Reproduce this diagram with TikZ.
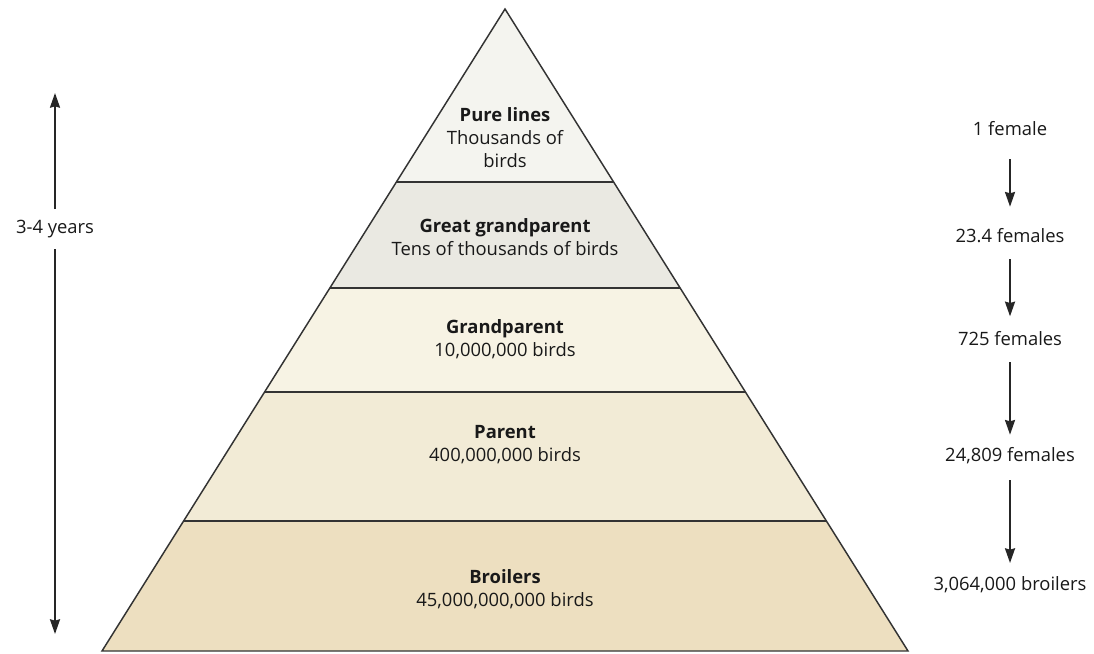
\documentclass[tikz,border=0pt]{standalone}
\usepackage{fontspec}
\setmainfont{Open Sans}
\usetikzlibrary{arrows.meta}
\begin{document}
\begin{tikzpicture}[x=0.75pt,y=-0.75pt,
  layer/.style={draw=black!80,line width=1.1pt,line join=miter},
  lbl/.style={font=\fontsize{13.8pt}{17.2pt}\selectfont,align=center,text=black!90,inner sep=1pt},
  arr/.style={draw=black!85,line width=1.5pt,-{Stealth[length=11pt,width=7.5pt,inset=1pt]}}]
\useasboundingbox (0,0) rectangle (1094,653);
\fill[fill=white] (0,0) rectangle (1094,653);
\fill[fill=black!5!white!98!yellow] (505,9) -- ({505-173*0.62773},182) -- ({505+173*0.62773},182) -- cycle;
\fill[fill=black!10!white!97!yellow] ({505-173*0.62773},182) -- ({505-279*0.62773},288) -- ({505+279*0.62773},288) -- ({505+173*0.62773},182) -- cycle;
\fill[fill={rgb,255:red,247;green,243;blue,228}] ({505-279*0.62773},288) -- ({505-383*0.62773},392) -- ({505+383*0.62773},392) -- ({505+279*0.62773},288) -- cycle;
\fill[fill={rgb,255:red,242;green,235;blue,214}] ({505-383*0.62773},392) -- ({505-512*0.62773},521) -- ({505+512*0.62773},521) -- ({505+383*0.62773},392) -- cycle;
\fill[fill={rgb,255:red,237;green,223;blue,192}] ({505-512*0.62773},521) -- (102,651) -- (908,651) -- ({505+512*0.62773},521) -- cycle;
\draw[layer] (505,9) -- (102,651) -- (908,651) -- cycle;
\draw[layer] ({505-173*0.62773},182) -- ({505+173*0.62773},182);
\draw[layer] ({505-279*0.62773},288) -- ({505+279*0.62773},288);
\draw[layer] ({505-383*0.62773},392) -- ({505+383*0.62773},392);
\draw[layer] ({505-512*0.62773},521) -- ({505+512*0.62773},521);
% layer labels
\node[lbl] (pure) at (505,138) {\textbf{Pure lines}\\Thousands of\\birds};
\node[lbl] (ggp) at (505,237) {\textbf{Great grandparent}\\Tens of thousands of birds};
\node[lbl] (gp) at (505,339) {\textbf{Grandparent}\\10,000,000 birds};
\node[lbl] (par) at (505,445) {\textbf{Parent}\\400,000,000 birds};
\node[lbl] (broil) at (505,589) {\textbf{Broilers}\\45,000,000,000 birds};
% left time arrow
\node[lbl] (years) at (55,229) {3-4 years};
\coordinate (ytop) at (55,93);
\coordinate (ybot) at (55,634);
\draw[arr] ([yshift=15pt]years.center) -- (ytop);
\draw[arr] ([yshift=-15pt]years.center) -- (ybot);
% right counts
\node[lbl] (f1) at (1010,129) {1 female};
\node[lbl] (f2) at (1010,236) {23.4 females};
\node[lbl] (f3) at (1010,339) {725 females};
\node[lbl] (f4) at (1010,456) {24,809 females};
\node[lbl] (f5) at (1010,585) {3,064,000 broilers};
\draw[arr] ([yshift=-22.5pt]f1.center) -- ([yshift=22pt]f2.center);
\draw[arr] ([yshift=-17.5pt]f2.center) -- ([yshift=17pt]f3.center);
\draw[arr] ([yshift=-17.5pt]f3.center) -- ([yshift=16pt]f4.center);
\draw[arr] ([yshift=-18pt]f4.center) -- ([yshift=16.5pt]f5.center);
\end{tikzpicture}
\end{document}
